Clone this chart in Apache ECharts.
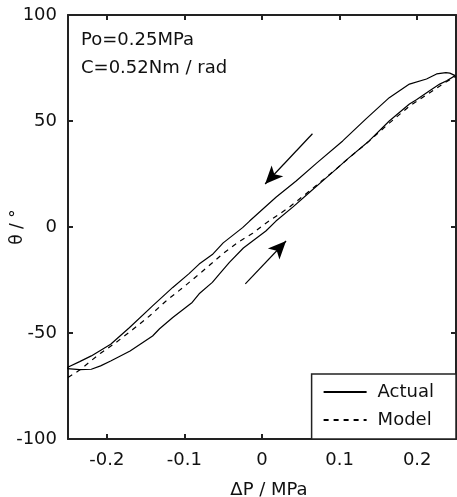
<!DOCTYPE html>
<html>
<head>
<meta charset="utf-8">
<script src="https://cdn.jsdelivr.net/npm/echarts@6/dist/echarts.min.js"></script>
<style>
  html, body { margin: 0; padding: 0; background: #fff; }
  #chart { width: 457px; height: 497px; }
</style>
</head>
<body>
<div id="chart"></div>
<script>
// measured curve (ascending branch then descending branch, one loop)
var actualX = [-0.251, -0.235, -0.22, -0.208, -0.195, -0.17, -0.141, -0.132, -0.115, -0.09, -0.081, -0.064, -0.055, -0.042, -0.024, 0.005, 0.018, 0.04, 0.061, 0.083, 0.096, 0.11, 0.138, 0.164, 0.19, 0.199, 0.216, 0.229, 0.238, 0.249,
               0.242, 0.237, 0.225, 0.212, 0.19, 0.164, 0.134, 0.104, 0.07, 0.044, 0.018, -0.016, -0.025, -0.05, -0.064, -0.081, -0.094, -0.115, -0.141, -0.171, -0.195, -0.22, -0.235, -0.251];
var actualY = [-66.8, -67.3, -67.1, -65.5, -63.2, -58.5, -51.4, -48.0, -42.7, -35.6, -31.5, -26.1, -22.2, -16.7, -9.9, -1.9, 2.8, 9.5, 16.3, 23.3, 27.4, 32.0, 40.6, 50.0, 58.0, 60.0, 64.3, 67.4, 69.0, 71.4,
               72.6, 72.8, 72.2, 69.8, 67.4, 61.0, 51.0, 40.6, 30.0, 21.7, 14.0, 2.8, -0.3, -7.5, -13.0, -17.5, -22.0, -28.5, -37.2, -47.5, -55.3, -60.8, -63.5, -66.3];

// model curve
var modelX = [-0.25, -0.235, -0.22, -0.208, -0.19, -0.167, -0.145, -0.124, -0.1, -0.077, -0.05, -0.03, -0.012, 0.003, 0.034, 0.063, 0.096, 0.12, 0.138, 0.164, 0.19, 0.215, 0.235, 0.25];
var modelY = [-71, -67.5, -63, -59.5, -55, -48.5, -42, -35, -28, -21, -12.5, -7, -3, 1.3, 9, 17.5, 27.5, 35, 40.5, 49, 57, 63, 68, 71];

// direction arrows [tail, head]
var arrowDown = [[0.065, 44], [0.004, 20.3]];
var arrowUp = [[-0.0215, -26.8], [0.031, -6.6]];

var xTicks = [-0.2, -0.1, 0, 0.1, 0.2];
var yTicks = [-100, -50, 0, 50, 100];

var pair = function (xs, ys) {
    return xs.map(function (x, i) { return [x, ys[i]]; });
};

var FONT = 'DejaVu Sans';
var axisLine = {show: true, onZero: false, lineStyle: {color: '#222', width: 2}};
var tick = {show: true, inside: true, length: 5, lineStyle: {color: '#222', width: 2}};

var chart = echarts.init(document.getElementById('chart'), null, {renderer: 'canvas'});

chart.setOption({
    backgroundColor: '#fff',
    animation: false,
    textStyle: {fontFamily: FONT},
    grid: {left: 68, right: 1, top: 15, bottom: 58, containLabel: false, outerBoundsMode: 'none'},
    xAxis: [{
        type: 'value', min: -0.25, max: 0.25,
        axisLine: axisLine,
        axisTick: Object.assign({customValues: xTicks}, tick),
        axisLabel: {customValues: xTicks, color: '#111', fontSize: 18, fontFamily: FONT, margin: 12},
        splitLine: {show: false},
        name: 'ΔP / MPa', nameLocation: 'middle', nameGap: 42, nameMoveOverlap: false,
        nameTextStyle: {color: '#111', fontSize: 18, fontFamily: FONT, padding: [0, 0, 0, 14]}
    }, {
        type: 'value', min: -0.25, max: 0.25, position: 'top',
        axisLine: axisLine,
        axisTick: Object.assign({customValues: xTicks}, tick),
        axisLabel: {show: false},
        splitLine: {show: false}
    }],
    yAxis: [{
        type: 'value', min: -100, max: 100, interval: 50,
        axisLine: axisLine,
        axisTick: Object.assign({customValues: yTicks}, tick),
        axisLabel: {customValues: yTicks, color: '#111', fontSize: 18, fontFamily: FONT, margin: 11},
        splitLine: {show: false},
        name: 'θ / °', nameLocation: 'middle', nameGap: 42, nameRotate: 90, nameMoveOverlap: false,
        nameTextStyle: {color: '#111', fontSize: 17, fontFamily: FONT}
    }, {
        type: 'value', min: -100, max: 100, interval: 50, position: 'right',
        axisLine: axisLine,
        axisTick: tick,
        axisLabel: {show: false},
        splitLine: {show: false}
    }],
    legend: {
        right: 1, bottom: 58,
        orient: 'vertical',
        backgroundColor: '#fff',
        borderColor: '#222', borderWidth: 1.5, borderRadius: 0,
        padding: [8, 22, 9, 11],
        itemWidth: 43, itemHeight: 14, itemGap: 8,
        itemStyle: {opacity: 0},
        textStyle: {fontSize: 18, fontFamily: FONT, color: '#111', lineHeight: 20, padding: [0, 0, 0, 6]},
        data: ['Actual', 'Model']
    },
    graphic: [
        {type: 'text', left: 81, top: 31, style: {text: 'Po=0.25MPa', font: '18px "DejaVu Sans"', fill: '#111'}},
        {type: 'text', left: 81, top: 59, style: {text: 'C=0.52Nm / rad', font: '18px "DejaVu Sans"', fill: '#111'}}
    ],
    series: [{
        name: 'Actual', type: 'line',
        data: pair(actualX, actualY),
        showSymbol: false, symbol: 'none',
        lineStyle: {color: '#000', width: 1.2},
        itemStyle: {color: '#000'},
        markLine: {
            silent: true,
            symbol: ['none', 'arrow'],
            symbolSize: [12, 18],
            label: {show: false},
            lineStyle: {color: '#000', width: 1.2, type: 'solid'},
            data: [
                [{coord: arrowDown[0]}, {coord: arrowDown[1]}],
                [{coord: arrowUp[0]}, {coord: arrowUp[1]}]
            ]
        },
        z: 3
    }, {
        name: 'Model', type: 'line',
        data: pair(modelX, modelY),
        showSymbol: false, symbol: 'none',
        lineStyle: {color: '#000', width: 1.2, type: [5, 5]},
        itemStyle: {color: '#000'},
        z: 2
    }]
});
</script>
</body>
</html>
